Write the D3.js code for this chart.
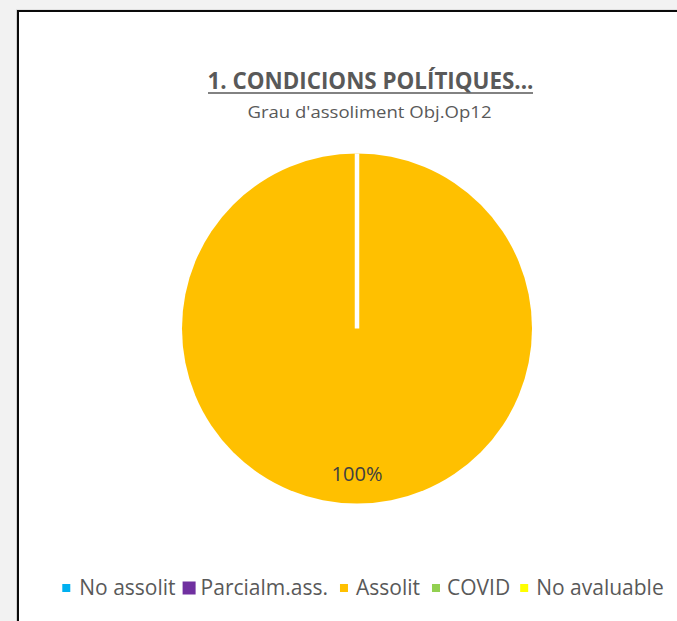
<!DOCTYPE html>
<html>
<head>
<meta charset="utf-8">
<script src="https://cdn.jsdelivr.net/npm/d3@7"></script>
<style>
  html, body { margin: 0; padding: 0; background: #f2f2f2; overflow: hidden; }
  svg { display: block; }
</style>
</head>
<body>
<svg id="chart" width="677" height="621"></svg>
<script>
// ---- data ----
const categories = ["No assolit", "Parcialm.ass.", "Assolit", "COVID", "No avaluable"];
const values = [0, 0, 1, 0, 0];
const colors = ["#00b0f0", "#7030a0", "#ffc000", "#92d050", "#ffff00"];
const titleText = "1. CONDICIONS POLÍTIQUES...";
const subtitleText = "Grau d'assoliment Obj.Op12";

// ---- layout ----
const W = 677, H = 621;
const svg = d3.select("#chart");
const FONT = "'Open Sans', 'Noto Sans', sans-serif";

// chart area
svg.append("rect").attr("x", 0).attr("y", 0).attr("width", W).attr("height", H).attr("fill", "#f2f2f2");
svg.append("rect").attr("x", 16.5).attr("y", 10).attr("width", 720).attr("height", 700)
  .attr("fill", "none").attr("stroke", "#d0d0d0").attr("stroke-width", 1);
svg.append("rect").attr("x", 18).attr("y", 11).attr("width", 720).attr("height", 700)
  .attr("fill", "#ffffff").attr("stroke", "#0a0a0a").attr("stroke-width", 2);

function fit(sel, target) {
  const n = sel.node().getComputedTextLength();
  if (Math.abs(n - target) > 1) sel.attr("textLength", target).attr("lengthAdjust", "spacingAndGlyphs");
}

// title
const title = svg.append("text")
  .attr("x", 370.5).attr("y", 89)
  .attr("text-anchor", "middle")
  .attr("font-family", FONT).attr("font-weight", "bold").attr("font-size", 22.5)
  .attr("fill", "#595959")
  .text(titleText);
fit(title, 326);
svg.append("line").attr("x1", 208).attr("x2", 533).attr("y1", 93).attr("y2", 93)
  .attr("stroke", "#595959").attr("stroke-width", 1.6);

const sub = svg.append("text")
  .attr("x", 369.5).attr("y", 118)
  .attr("text-anchor", "middle")
  .attr("font-family", FONT).attr("font-size", 16.5)
  .attr("fill", "#595959")
  .text(subtitleText);
fit(sub, 244);

// pie
const cx = 357, cy = 328.5, R = 175;
const pie = d3.pie().value(d => d).sort(null);
const arcs = pie(values);
const arc = d3.arc().innerRadius(0).outerRadius(R);
const g = svg.append("g").attr("transform", `translate(${cx},${cy})`);

g.selectAll("path.slice")
  .data(arcs.filter(a => a.value > 0))
  .join("path")
  .attr("class", "slice")
  .attr("d", arc)
  .attr("fill", a => colors[a.index]);

// slice separators (white borders)
g.selectAll("line.sep")
  .data(arcs.filter(a => a.value > 0))
  .join("line")
  .attr("class", "sep")
  .attr("x1", 0).attr("y1", 0)
  .attr("x2", a => R * Math.sin(a.startAngle))
  .attr("y2", a => -R * Math.cos(a.startAngle))
  .attr("stroke", "#ffffff").attr("stroke-width", 4.5);

// labels
const total = d3.sum(values);
const labelArc = d3.arc().innerRadius(R * 0.83).outerRadius(R * 0.83);
g.selectAll("text.lbl")
  .data(arcs.filter(a => a.value > 0))
  .join("text")
  .attr("class", "lbl")
  .attr("transform", a => `translate(${labelArc.centroid(a)})`)
  .attr("text-anchor", "middle")
  .attr("dy", "0.36em")
  .attr("font-family", FONT).attr("font-size", 20)
  .attr("fill", "#404040")
  .text(a => d3.format(".0%")(a.value / total));

// legend
const legend = svg.append("g");
const legendY = 588;
const legendFont = 21;
const gapAfter = [7, 12, 12, 10, 0];
const gapBefore = [9, 5, 8, 7, 8];
let x = 0;
categories.forEach((c, i) => {
  const sz = i === 1 ? 13 : 8;
  const it = legend.append("g");
  it.append("rect").attr("x", x).attr("y", legendY - sz / 2)
    .attr("width", sz).attr("height", sz).attr("fill", colors[i]);
  const t = it.append("text").attr("x", x + sz + gapBefore[i]).attr("y", legendY)
    .attr("dy", "0.35em")
    .attr("font-family", FONT).attr("font-size", legendFont).attr("fill", "#595959")
    .text(c);
  const tw = t.node().getComputedTextLength();
  x += sz + gapBefore[i] + tw + gapAfter[i];
});
const legendW = x;
legend.attr("transform", `translate(${363 - legendW / 2},0)`);
</script>
</body>
</html>
